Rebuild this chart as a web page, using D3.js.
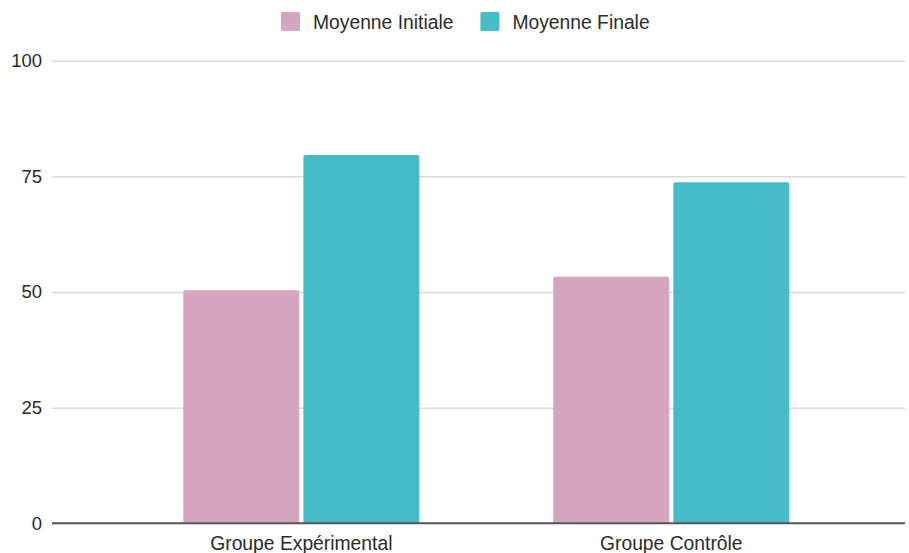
<!DOCTYPE html>
<html>
<head>
<meta charset="utf-8">
<script src="https://d3js.org/d3.v7.min.js"></script>
<style>
  body { margin: 0; background: #fff; }
  svg { display: block; font-family: "Liberation Sans", Arial, sans-serif; }
</style>
</head>
<body>
<svg id="chart" width="909" height="553"></svg>
<script>
// data
var groups = ["Groupe Expérimental", "Groupe Contrôle"]
var seriesNames = ["Moyenne Initiale", "Moyenne Finale"]
var moyenneInitiale = [50.4, 53.3]
var moyenneFinale = [79.6, 73.7]
var yTicks = [0, 25, 50, 75, 100]
var colors = ["#d5a6bd", "#46bdc6"]

var rows = groups.map(function (g, i) {
  return { group: g, values: [moyenneInitiale[i], moyenneFinale[i]] }
})

var svg = d3.select("#chart")
var gridLeft = 52, gridRight = 905

var y = d3.scaleLinear().domain([0, 100]).range([523.3, 60.7])

var x0 = d3.scaleBand().domain(groups)
  .range([50.1, 922.5]).paddingInner(0.362).paddingOuter(0.36)
var x1 = d3.scaleBand().domain(seriesNames)
  .range([0, x0.bandwidth()]).paddingInner(0.034).paddingOuter(0)

// gridlines + y labels
var yAxis = svg.append("g").attr("transform", "translate(" + gridLeft + ",0)")
  .call(d3.axisLeft(y).tickValues(yTicks).tickSize(-(gridRight - gridLeft)).tickPadding(10))
yAxis.select(".domain").remove()
yAxis.selectAll(".tick line").attr("stroke", "#d9d9d9").attr("stroke-width", 1.5)
yAxis.selectAll(".tick text").attr("fill", "#2b2b2b").style("font-size", "18.5px")
yAxis.selectAll(".tick").filter(function (d) { return d === 0 }).select("line").attr("stroke-opacity", 0)

// bars
var groupG = svg.append("g").selectAll("g").data(rows).enter().append("g")
  .attr("transform", function (d) { return "translate(" + x0(d.group) + ",0)" })

groupG.selectAll("path").data(function (d) {
  return d.values.map(function (v, i) { return { name: seriesNames[i], value: v, i: i } })
}).enter().append("path")
  .attr("fill", function (d) { return colors[d.i] })
  .attr("d", function (d) {
    var bx = x1(d.name), bw = x1.bandwidth(), top = y(d.value), base = y(0), r = 2
    return "M" + bx + "," + base + "V" + (top + r) + "Q" + bx + "," + top + " " + (bx + r) + "," + top +
      "H" + (bx + bw - r) + "Q" + (bx + bw) + "," + top + " " + (bx + bw) + "," + (top + r) + "V" + base + "Z"
  })

// baseline
svg.append("line")
  .attr("x1", gridLeft).attr("x2", gridRight)
  .attr("y1", y(0)).attr("y2", y(0))
  .attr("stroke", "#555").attr("stroke-width", 2)

// x labels
var xAxis = svg.append("g").attr("transform", "translate(0," + y(0) + ")")
  .call(d3.axisBottom(x0).tickSize(0).tickPadding(13))
xAxis.select(".domain").remove()
xAxis.selectAll(".tick text").attr("fill", "#2b2b2b").style("font-size", "19.3px")

// legend
var legend = svg.append("g")
var lx = 281
seriesNames.forEach(function (name, i) {
  legend.append("rect").attr("x", lx).attr("y", 12).attr("width", 19).attr("height", 19)
    .attr("rx", 1.5).attr("fill", colors[i])
  var t = legend.append("text").attr("x", lx + 32).attr("y", 22).attr("dy", "0.35em")
    .attr("fill", "#2b2b2b").style("font-size", "19.3px").text(name)
  lx = lx + 32 + t.node().getComputedTextLength() + 27
})
</script>
</body>
</html>
